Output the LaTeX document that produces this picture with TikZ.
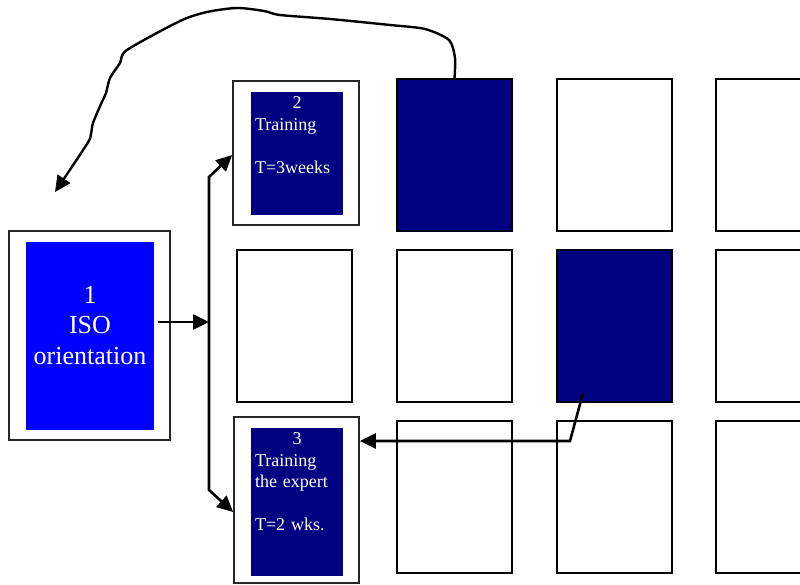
\documentclass[tikz,border=0pt]{standalone}
\usepackage{fontspec}
\setmainfont{Liberation Serif}
\usetikzlibrary{arrows.meta}
\definecolor{navyfill}{HTML}{000080}
\definecolor{bluefill}{HTML}{0000FF}

\begin{document}
\begin{tikzpicture}[x=1pt,y=-1pt,
  >={Triangle[length=16pt,width=15pt]},
  cell/.style={draw=black, line width=2pt, minimum width=115pt,
    minimum height=152pt, inner sep=0pt, fill=white},
  dark/.style={cell, fill=navyfill},
  frame/.style={draw=black!85, line width=1.7pt, inner sep=0pt, fill=white},
  core/.style={inner sep=0pt, fill=navyfill},
  label/.style={text=white, inner sep=0pt, align=left, text width=84pt,
    font=\fontsize{18}{21.5}\selectfont},
  conn/.style={line width=2.6pt, ->}
]
\clip (0,0) rectangle (800,585);

% grid of activity cells (column, row)
\node[cell] (c1r2) at (294.5,326) {};
\node[dark] (c2r1) at (454.5,155) {};
\node[cell] (c2r2) at (454.5,326) {};
\node[cell] (c2r3) at (454.5,497) {};
\node[cell] (c3r1) at (614.5,155) {};
\node[dark] (c3r2) at (614.5,326) {};
\node[cell] (c3r3) at (614.5,497) {};
\node[cell] (c4r1) at (773.5,155) {};
\node[cell] (c4r2) at (773.5,326) {};
\node[cell] (c4r3) at (773.5,497) {};

% step 1
\node[frame, minimum width=161pt, minimum height=209pt] (b1) at (89.5,335.5) {};
\node[core, fill=bluefill, minimum width=128pt, minimum height=188pt] (i1) at (90,336) {};
\node[text=white, align=center, inner sep=0pt,
  font=\fontsize{26}{30.5}\selectfont] (t1) at ([yshift=10.5pt]i1.center)
  {1\\ISO\\orientation};

% step 2
\node[frame, minimum width=126pt, minimum height=144pt] (b2) at (296,153) {};
\node[core, minimum width=92pt, minimum height=123pt] (i2) at (297,153.5) {};
\node[label, anchor=north west] (t2) at ([xshift=4pt,yshift=-5pt]i2.north west)
  {\makebox[84pt]{2}\\Training\\[21.5pt]T=3weeks};

% step 3
\node[frame, minimum width=125pt, minimum height=166pt] (b3) at (296.5,500) {};
\node[core, minimum width=92pt, minimum height=148pt] (i3) at (297,502) {};
\node[label, anchor=north west] (t3) at ([xshift=4pt,yshift=-5pt]i3.north west)
  {\makebox[84pt]{3}\\Training\\the expert\\[21.5pt]T=2 wks.};

% connectors
\coordinate (jt) at (209,177);
\coordinate (jm) at (209,322);
\coordinate (jb) at (209,490);
\coordinate (bend) at (570,441);
\coordinate (tipL) at (55,192);

\draw[conn] ([xshift=4pt,yshift=14pt]i1.east) -- (jm);
\draw[conn, <->] ([yshift=-2pt]b2.west) -- (jt) -- (jb) -- ([yshift=-12pt]b3.west);
\draw[conn] ([xshift=-31.5pt,yshift=10pt]c3r2.south) -- (bend) -- (bend -| b3.east);
\draw[line width=2.4pt, ->] plot[smooth, tension=0.45] coordinates {
  (c2r1.north) (455,58) (449,40) (425,29) (390,25) (330,19) (280,15)
  (264,11) (237,8) (207,12) (180,21) (127,50) (120,63) (110,78) (106,93)
  (101,104) (93,123) (91,134) (87,144) (tipL)};
\end{tikzpicture}
\end{document}
